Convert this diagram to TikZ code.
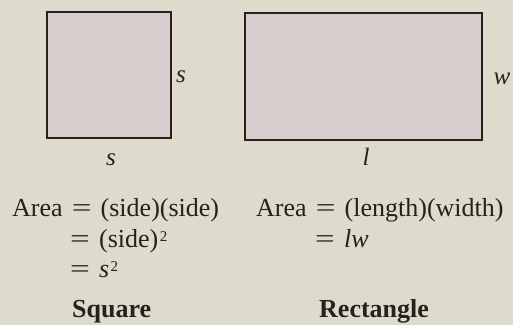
\documentclass[tikz,border=0pt]{standalone}
\usepackage{fontspec}
\usepackage{graphicx}
\setmainfont{Liberation Serif}
\definecolor{paper}{RGB}{222,219,204}
\definecolor{shade}{RGB}{214,205,204}
\definecolor{ink}{RGB}{40,32,30}
\newcommand{\supr}[1]{\hspace{1.5pt}\raisebox{5.5pt}{\fontsize{15}{16}\selectfont #1}}
\newcommand{\wideeq}{\scalebox{1.35}[1]{=}}
\newcommand{\eqs}{\hspace{0.35em}\wideeq\hspace{0.35em}}
\newcommand{\eqr}{\wideeq\hspace{0.35em}}
\begin{document}
\begin{tikzpicture}[x=1pt,y=-1pt,
  shapebox/.style={draw=ink,fill=shade,line width=1.1pt},
  lbl/.style={inner sep=0pt,text=ink,font=\fontsize{25}{28}\selectfont\itshape},
  eq/.style={inner sep=0pt,anchor=base west,text=ink,font=\fontsize{26}{30}\selectfont},
  ttl/.style={inner sep=0pt,anchor=base west,text=ink,font=\fontsize{26}{30}\selectfont\bfseries}]
\fill[paper] (0,0) rectangle (513,325);
\useasboundingbox (0,0) rectangle (513,325);
\draw[shapebox] (47,12) rectangle (171,138);
\node[lbl] (sr) at (181,77) {s};
\node[lbl] (sb) at (111,160) {s};
\draw[shapebox] (245,13) rectangle (482,140);
\node[lbl] (w) at (502,79) {w};
\node[lbl] (l) at (366,157) {l};
\node[eq] (a1) at (12,216) {Area\eqs(side)(side)};
\node[eq] (a2) at (70,247) {\eqr(side)\supr{2}};
\node[eq] (a3) at (70,277) {\eqr\textit{s}\supr{2}};
\node[ttl] (sq) at (72,317) {Square};
\node[eq] (b1) at (256,216) {Area\eqs(length)(width)};
\node[eq] (b2) at (315,247) {\eqr\textit{lw}};
\node[ttl] (rc) at (319,317) {Rectangle};
\end{tikzpicture}
\end{document}
